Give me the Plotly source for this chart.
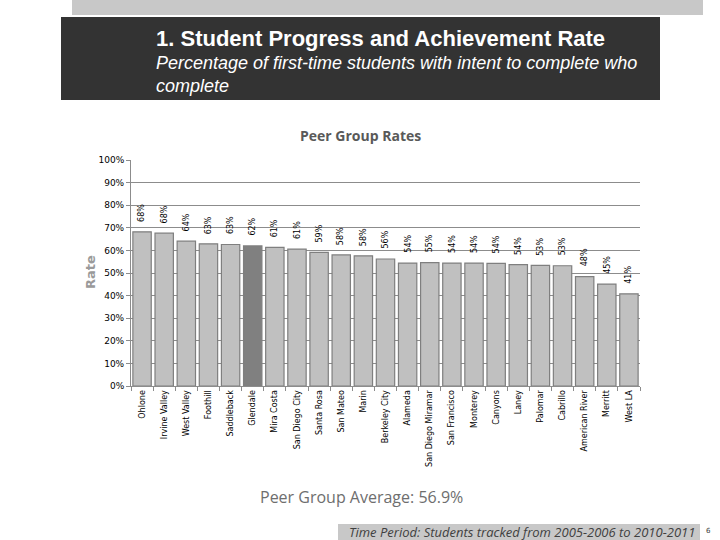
import plotly.graph_objects as go

colleges = ["Ohlone", "Irvine Valley", "West Valley", "Foothill", "Saddleback", "Glendale",
            "Mira Costa", "San Diego City", "Santa Rosa", "San Mateo", "Marin", "Berkeley City",
            "Alameda", "San Diego Miramar", "San Francisco", "Monterey", "Canyons", "Laney",
            "Palomar", "Cabrillo", "American River", "Merritt", "West LA"]
rates = [68.2, 67.6, 64.1, 62.9, 62.6, 62.0, 61.3, 60.6, 59.1, 58.0, 57.6, 56.2,
         54.4, 54.6, 54.4, 54.4, 54.3, 53.7, 53.4, 53.2, 48.4, 45.1, 40.8]
highlight = "Glendale"
y_ticks = [0, 10, 20, 30, 40, 50, 60, 70, 80, 90, 100]
y_tick_labels = [f"{t}%" for t in y_ticks]
peer_average = "56.9%"

colors = ["#808080" if c == highlight else "#c0c0c0" for c in colleges]

fig = go.Figure()
fig.add_trace(go.Bar(
    x=colleges, y=rates,
    marker=dict(color=colors, line=dict(color="#7f7f7f", width=1.2)),
    hoverinfo="skip",
))

fig.update_layout(
    width=720, height=540,
    margin=dict(l=131, r=80, t=160, b=154),
    paper_bgcolor="white", plot_bgcolor="white",
    bargap=0.17, showlegend=False,
    font=dict(family="DejaVu Sans", color="#000"),
)
fig.update_yaxes(range=[0, 100], tickvals=y_ticks, ticktext=y_tick_labels,
                 showgrid=True, gridcolor="#8c8c8c", gridwidth=1,
                 showline=True, linecolor="#8c8c8c", linewidth=1,
                 ticks="outside", ticklen=4, tickcolor="#8c8c8c",
                 tickfont=dict(family="DejaVu Sans", size=9, color="#000"),
                 zeroline=False)
fig.update_xaxes(tickangle=-90, showline=True, linecolor="#8c8c8c", linewidth=1,
                 ticks="outside", ticklen=4, tickcolor="#8c8c8c", tickson="boundaries",
                 tickfont=dict(family="DejaVu Sans", size=8, color="#000"))


def px_x(x):
    return (x - 131) / 509


def px_y(y):
    return (386 - y) / 226


shapes = [
    dict(type="rect", xref="paper", yref="paper", x0=px_x(72), x1=px_x(703),
         y0=px_y(15), y1=px_y(0), fillcolor="#c8c8c8", line=dict(width=0), layer="below"),
    dict(type="rect", xref="paper", yref="paper", x0=px_x(61), x1=px_x(660),
         y0=px_y(100), y1=px_y(17), fillcolor="#333333", line=dict(width=0), layer="below"),
    dict(type="rect", xref="paper", yref="paper", x0=px_x(338), x1=px_x(700),
         y0=px_y(540), y1=px_y(524), fillcolor="#c8c8c8", line=dict(width=0), layer="below"),
]
fig.update_layout(shapes=shapes)

annotations = [
    dict(text="<b>1. Student Progress and Achievement Rate</b>", x=px_x(154), y=px_y(38),
         xanchor="left", yanchor="middle", showarrow=False,
         font=dict(family="Liberation Sans", size=22, color="white")),
    dict(text="<i>Percentage of first-time students with intent to complete who<br>complete</i>",
         x=px_x(154), y=px_y(51), xanchor="left", yanchor="top", showarrow=False, align="left",
         font=dict(family="Liberation Sans", size=18, color="white")),
    dict(text="<b>Peer Group Rates</b>", x=px_x(360), y=px_y(135), xanchor="center", yanchor="middle",
         showarrow=False, font=dict(family="Open Sans", size=14, color="#595959")),
    dict(text="<b>Rate</b>", x=px_x(90), y=px_y(272), xanchor="center", yanchor="middle",
         showarrow=False, textangle=-90, font=dict(family="DejaVu Sans", size=13, color="#9a9a9a")),
    dict(text=f"Peer Group Average: {peer_average}", x=px_x(258), y=px_y(497), xanchor="left",
         yanchor="middle", showarrow=False, font=dict(family="Open Sans", size=16, color="#6e6e6e")),
    dict(text="<i>Time Period: Students tracked from 2005-2006 to 2010-2011</i>", x=px_x(697),
         y=px_y(532), xanchor="right", yanchor="middle", showarrow=False,
         font=dict(family="Open Sans", size=13, color="#404040")),
    dict(text="6", x=px_x(708), y=px_y(531), xanchor="center", yanchor="middle", showarrow=False,
         font=dict(family="DejaVu Sans", size=7, color="#404040")),
]
for a in annotations:
    a["xref"] = "paper"
    a["yref"] = "paper"

# value labels above each bar, placed through the data axes
for c, v in zip(colleges, rates):
    annotations.append(dict(
        x=c, y=v, xref="x", yref="y", text=f"{v:.0f}%", textangle=-90,
        showarrow=False, xanchor="center", yanchor="bottom", yshift=8,
        font=dict(family="DejaVu Sans", size=8, color="#000"),
    ))
fig.update_layout(annotations=annotations)

fig.write_html("out.html", config={"displayModeBar": False},
               post_script="document.body.style.margin='0';document.body.style.padding='0';")
